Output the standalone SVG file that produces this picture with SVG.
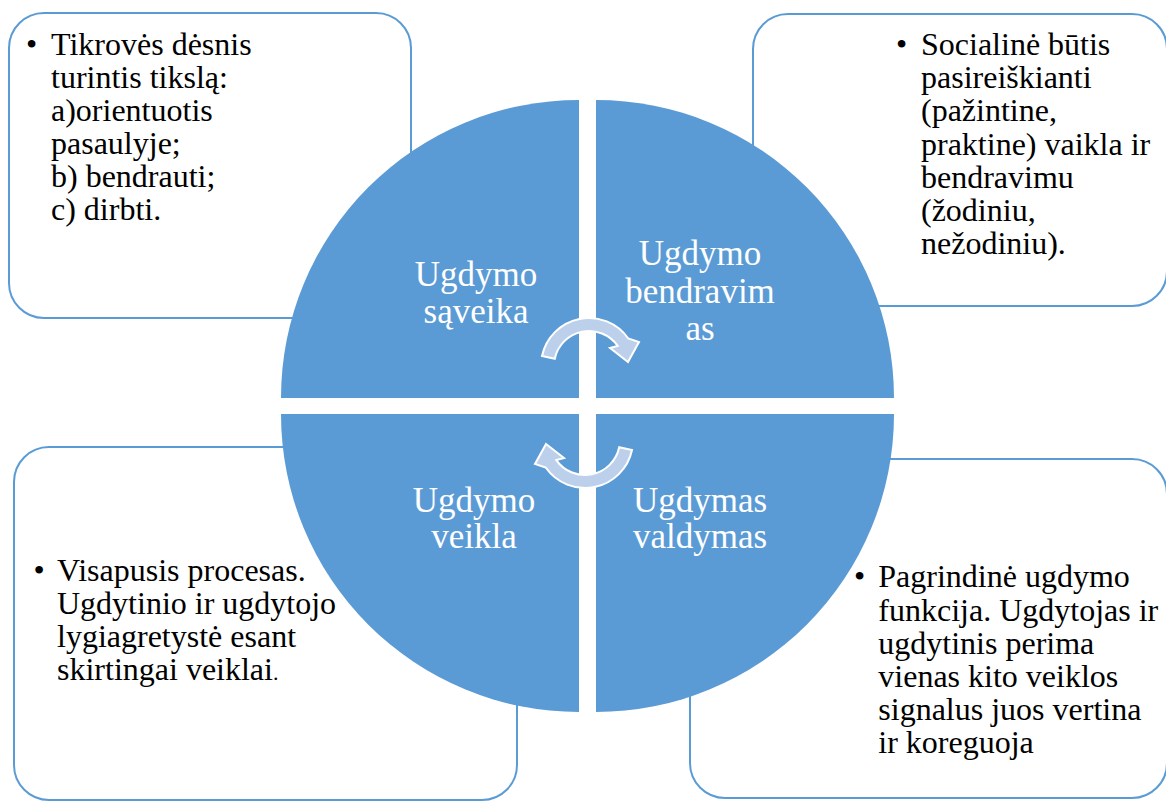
<svg xmlns="http://www.w3.org/2000/svg" width="1166" height="802" viewBox="0 0 1166 802">
<defs>
<style>
.box{fill:#FFFFFF;stroke:#5B9BD5;stroke-width:2}
.quad{fill:#5B9BD5}
.arrow{fill:#BDD0EB;stroke:#FFFFFF;stroke-width:2;stroke-linejoin:miter}
.t{font-family:'Times New Roman','Liberation Serif',Times,serif;font-size:32px;fill:#000000}
.q{font-family:'Times New Roman','Liberation Serif',Times,serif;font-size:35px;fill:#FFFFFF;text-anchor:middle}
</style>
</defs>
<rect width="1166" height="802" fill="#FFFFFF"/>
<g id="box-tl">
<rect class="box" x="9" y="13" width="402" height="305" rx="35" ry="35"/>
<text class="t"><tspan x="26" y="55">•</tspan><tspan x="51" y="55">Tikrovės dėsnis</tspan><tspan x="51" y="88">turintis tikslą:</tspan><tspan x="51" y="121">a)orientuotis</tspan><tspan x="51" y="154">pasaulyje;</tspan><tspan x="51" y="187">b) bendrauti;</tspan><tspan x="51" y="220">c) dirbti.</tspan></text>
</g>
<g id="box-tr">
<rect class="box" x="753" y="14" width="414" height="292" rx="35" ry="35"/>
<text class="t"><tspan x="896" y="55">•</tspan><tspan x="921" y="55">Socialinė būtis</tspan><tspan x="921" y="88.2">pasireiškianti</tspan><tspan x="921" y="121.4">(pažintine,</tspan><tspan x="921" y="154.6">praktine) vaikla ir</tspan><tspan x="921" y="187.8">bendravimu</tspan><tspan x="921" y="221">(žodiniu,</tspan><tspan x="921" y="254.2">nežodiniu).</tspan></text>
</g>
<g id="box-bl">
<rect class="box" x="14" y="447" width="503" height="353" rx="35" ry="35"/>
<text class="t"><tspan x="33.5" y="581">•</tspan><tspan x="57" y="581">Visapusis procesas.</tspan><tspan x="57" y="614">Ugdytinio ir ugdytojo</tspan><tspan x="57" y="647">lygiagretystė esant</tspan><tspan x="57" y="680">skirtingai veiklai<tspan font-size="22">.</tspan></tspan></text>
</g>
<g id="box-br">
<rect class="box" x="690" y="459" width="477" height="339" rx="35" ry="35"/>
<text class="t"><tspan x="854" y="587.3">•</tspan><tspan x="878.3" y="587.3">Pagrindinė ugdymo</tspan><tspan x="878.3" y="620.5">funkcija. Ugdytojas ir</tspan><tspan x="878.3" y="653.7">ugdytinis perima</tspan><tspan x="878.3" y="686.9">vienas kito veiklos</tspan><tspan x="878.3" y="720.1">signalus juos vertina</tspan><tspan x="878.3" y="753.3">ir koreguoja</tspan></text>
</g>
<g id="quad-tl">
<path class="quad" d="M579,398 L281,398 A298,298 0 0 1 579,100 Z"/>
<text class="q"><tspan x="476" y="285.7">Ugdymo</tspan><tspan x="476" y="323">sąveika</tspan></text>
</g>
<g id="quad-tr">
<path class="quad" d="M596,398 L596,100 A298,298 0 0 1 894,398 Z"/>
<text class="q"><tspan x="700" y="265">Ugdymo</tspan><tspan x="700" y="302.7">bendravim</tspan><tspan x="700" y="340.4">as</tspan></text>
</g>
<g id="quad-bl">
<path class="quad" d="M579,414 L579,712 A298,298 0 0 1 281,414 Z"/>
<text class="q"><tspan x="474" y="511.7">Ugdymo</tspan><tspan x="474" y="548">veikla</tspan></text>
</g>
<g id="quad-br">
<path class="quad" d="M596,414 L894,414 A298,298 0 0 1 596,712 Z"/>
<text class="q"><tspan x="700" y="511.7">Ugdymas</tspan><tspan x="700" y="548">valdymas</tspan></text>
</g>
<g id="connectors">
<path id="arrow-top" class="arrow" d="M542,356 A48,48 0 0 1 628.3,338.5 L639,342 L628,362 L610,348 L617.7,345.9 A35,35 0 0 0 554.8,358.7 Z"/>
<path id="arrow-bottom" class="arrow" transform="rotate(180 587 403)" d="M542,356 A48,48 0 0 1 628.3,338.5 L639,342 L628,362 L610,348 L617.7,345.9 A35,35 0 0 0 554.8,358.7 Z"/>
</g>
</svg>
